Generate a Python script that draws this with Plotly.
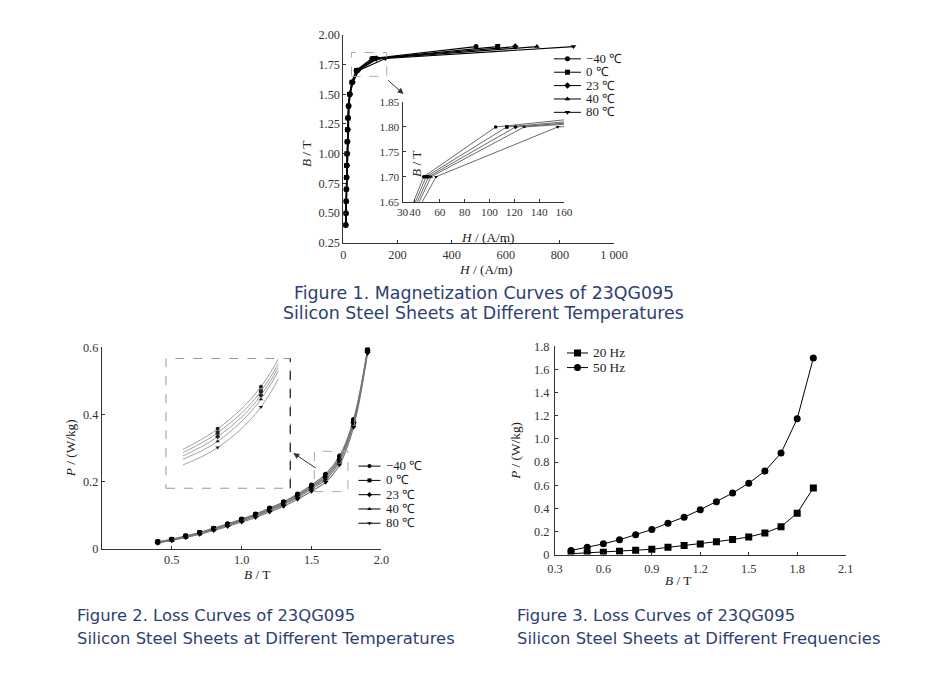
import plotly.graph_objects as go

# the photographed page comes out scaled by SCALE and shifted by SHIFT,
# so reference pixels are converted back to figure pixels before use
SCALE, SHIFT = 0.974, 16.4
W, H = 932, 682

# ---------------- Figure 1: magnetization curves ----------------
temps = ["−40 ℃", "0 ℃", "23 ℃", "40 ℃", "80 ℃"]
b_mag = [0.4, 0.5, 0.6, 0.7, 0.8, 0.9, 1.0, 1.1, 1.2, 1.3, 1.4, 1.5, 1.6, 1.7, 1.8, 1.9]
h_m40 = [8, 9, 10, 10, 11, 12, 13, 14, 15, 16, 18, 23, 31, 47, 105, 490]
h_0 = [8, 9, 10, 11, 11, 12, 13, 14, 15, 17, 19, 23, 32, 49, 114, 570]
h_23 = [9, 9, 10, 11, 12, 13, 14, 15, 16, 17, 19, 24, 33, 51, 121, 635]
h_40 = [9, 10, 11, 11, 12, 13, 14, 15, 16, 18, 20, 24, 34, 53, 128, 715]
h_80 = [9, 10, 11, 12, 13, 14, 15, 16, 17, 18, 21, 25, 35, 57, 155, 850]
h_curves = [h_m40, h_0, h_23, h_40, h_80]

# ---------------- Figure 2: losses vs temperature ----------------
b_loss = [0.4, 0.5, 0.6, 0.7, 0.8, 0.9, 1.0, 1.1, 1.2, 1.3, 1.4, 1.5, 1.6, 1.7, 1.8, 1.9]
p_m40 = [0.021, 0.028, 0.038, 0.048, 0.061, 0.074, 0.088, 0.103, 0.121, 0.140, 0.163, 0.190, 0.222, 0.276, 0.385, 0.595]
p_0 = [0.020, 0.027, 0.037, 0.047, 0.059, 0.072, 0.086, 0.101, 0.118, 0.137, 0.159, 0.186, 0.217, 0.270, 0.380, 0.592]
p_23 = [0.019, 0.026, 0.036, 0.046, 0.058, 0.071, 0.084, 0.099, 0.116, 0.134, 0.156, 0.182, 0.212, 0.265, 0.376, 0.590]
p_40 = [0.018, 0.025, 0.035, 0.045, 0.057, 0.069, 0.082, 0.097, 0.113, 0.131, 0.152, 0.178, 0.206, 0.260, 0.371, 0.587]
p_80 = [0.017, 0.024, 0.033, 0.043, 0.054, 0.066, 0.079, 0.093, 0.109, 0.126, 0.147, 0.171, 0.198, 0.250, 0.362, 0.582]
p_curves = [p_m40, p_0, p_23, p_40, p_80]

# ---------------- Figure 3: losses vs frequency ----------------
freqs = ["20 Hz", "50 Hz"]
b_freq = [0.4, 0.5, 0.6, 0.7, 0.8, 0.9, 1.0, 1.1, 1.2, 1.3, 1.4, 1.5, 1.6, 1.7, 1.8, 1.9]
p_20hz = [0.008, 0.015, 0.021, 0.030, 0.038, 0.046, 0.063, 0.078, 0.092, 0.112, 0.130, 0.153, 0.187, 0.242, 0.358, 0.577]
p_50hz = [0.036, 0.063, 0.093, 0.128, 0.171, 0.217, 0.272, 0.324, 0.388, 0.457, 0.532, 0.618, 0.722, 0.878, 1.174, 1.700]

temp_symbols = ["circle", "square", "diamond", "triangle-up", "triangle-down"]
freq_symbols = ["square", "circle"]

SERIF = "Liberation Serif"
CAPTION = "#2d4071"


# reference pixel -> paper fraction
def px(x):
    return (x - SHIFT) / SCALE / W


def py(y):
    return 1 - (y - SHIFT) / SCALE / H


def dom_x(a, b):
    return [px(a), px(b)]


def dom_y(top, bottom):
    return [py(bottom), py(top)]


def fs(size):
    # font size as it should appear in the photo
    return round(size / SCALE, 1)


fig = go.Figure()

# fig 1 main + inset
for name, hs, sym in zip(temps, h_curves, temp_symbols):
    fig.add_trace(go.Scatter(x=hs, y=b_mag, mode="lines+markers", name=name,
                             line=dict(color="black", width=1.2),
                             marker=dict(symbol=sym, size=5, color="black"),
                             xaxis="x", yaxis="y", showlegend=False))
    fig.add_trace(go.Scatter(x=hs, y=b_mag, mode="lines+markers", name=name,
                             line=dict(color="#444", width=0.8),
                             marker=dict(symbol=sym, size=3.5, color="black"),
                             xaxis="x2", yaxis="y2", showlegend=False))

# fig 2 main + inset
for name, ps, sym in zip(temps, p_curves, temp_symbols):
    fig.add_trace(go.Scatter(x=b_loss, y=ps, mode="lines+markers", name=name,
                             line=dict(color="#777", width=1.1, shape="spline"),
                             marker=dict(symbol=sym, size=5, color="black"),
                             xaxis="x3", yaxis="y3", showlegend=False))
    fig.add_trace(go.Scatter(x=b_loss, y=ps, mode="lines+markers", name=name,
                             line=dict(color="#888", width=0.8, shape="spline"),
                             marker=dict(symbol=sym, size=4, color="#222"),
                             xaxis="x4", yaxis="y4", showlegend=False))

# fig 3
for name, ps, sym in zip(freqs, [p_20hz, p_50hz], freq_symbols):
    fig.add_trace(go.Scatter(x=b_freq, y=ps, mode="lines+markers", name=name,
                             line=dict(color="black", width=1),
                             marker=dict(symbol=sym, size=7, color="black"),
                             xaxis="x5", yaxis="y5", showlegend=False))

# hand-made legends drawn on an overlay axis that works in reference pixels
annotations = []


def add_legend(names, symbols, x0, y0, dy, length, msize, fsize):
    for i, (name, sym) in enumerate(zip(names, symbols)):
        yy = y0 + i * dy
        fig.add_trace(go.Scatter(x=[x0, x0 + length], y=[yy, yy], mode="lines",
                                 line=dict(color="black", width=1),
                                 xaxis="x6", yaxis="y6", showlegend=False, hoverinfo="skip"))
        fig.add_trace(go.Scatter(x=[x0 + length / 2], y=[yy], mode="markers",
                                 marker=dict(symbol=sym, size=msize, color="black"),
                                 xaxis="x6", yaxis="y6", showlegend=False, hoverinfo="skip"))
        annotations.append(dict(x=px(x0 + length + 4), y=py(yy), xref="paper", yref="paper",
                                text=name, showarrow=False, xanchor="left", yanchor="middle",
                                borderpad=0, font=dict(family=SERIF, size=fs(fsize), color="#222")))


add_legend(temps, temp_symbols, 553, 60, 13.3, 27, 5, 12.5)
add_legend(temps, temp_symbols, 358, 465, 14.2, 22, 4, 12.5)
add_legend(freqs, freq_symbols, 566, 352.5, 14.5, 21, 7, 13)

tick_font = dict(family=SERIF, size=fs(12), color="#333")
axis_common = dict(showgrid=False, zeroline=False, showline=True, linecolor="#333",
                   linewidth=1, ticks="inside", ticklen=3, tickcolor="#333",
                   tickfont=tick_font, tickangle=0, fixedrange=True)
inset_common = dict(axis_common, tickfont=dict(family=SERIF, size=fs(11), color="#333"))

fig.update_layout(
    width=W, height=H,
    margin=dict(l=0, r=0, t=0, b=0),
    paper_bgcolor="white", plot_bgcolor="rgba(0,0,0,0)",
    xaxis=dict(domain=dom_x(343, 613), range=[0, 1000], anchor="y",
               tickvals=[0, 200, 400, 600, 800, 1000],
               ticktext=["0", "200", "400", "600", "800", "1 000"], **axis_common),
    yaxis=dict(domain=dom_y(36, 243), range=[0.25, 2.0], anchor="x",
               tickvals=[0.25, 0.5, 0.75, 1.0, 1.25, 1.5, 1.75, 2.0],
               ticktext=["0.25", "0.50", "0.75", "1.00", "1.25", "1.50", "1.75", "2.00"], **axis_common),
    xaxis2=dict(domain=dom_x(402, 563), range=[30, 160], anchor="y2",
                tickvals=[30, 40, 60, 80, 100, 120, 140, 160], **inset_common),
    yaxis2=dict(domain=dom_y(103, 202), range=[1.65, 1.85], anchor="x2",
                tickvals=[1.65, 1.70, 1.75, 1.80, 1.85],
                ticktext=["1.65", "1.70", "1.75", "1.80", "1.85"], **inset_common),
    xaxis3=dict(domain=dom_x(102, 381), range=[0, 2.0], anchor="y3",
                tickvals=[0.5, 1.0, 1.5, 2.0], ticktext=["0.5", "1.0", "1.5", "2.0"], **axis_common),
    yaxis3=dict(domain=dom_y(347, 547), range=[0, 0.6], anchor="x3",
                tickvals=[0, 0.2, 0.4, 0.6], ticktext=["0", "0.2", "0.4", "0.6"], **axis_common),
    xaxis4=dict(domain=dom_x(183, 278), range=[1.52, 1.74], anchor="y4", visible=False, fixedrange=True),
    yaxis4=dict(domain=dom_y(358, 487), range=[0.146, 0.312], anchor="x4", visible=False, fixedrange=True),
    xaxis5=dict(domain=dom_x(554, 844), range=[0.3, 2.1], anchor="y5",
                tickvals=[0.3, 0.6, 0.9, 1.2, 1.5, 1.8, 2.1],
                ticktext=["0.3", "0.6", "0.9", "1.2", "1.5", "1.8", "2.1"],
                ticklabelstandoff=3, **axis_common),
    yaxis5=dict(domain=dom_y(346, 553), range=[0, 1.8], anchor="x5",
                tickvals=[0, 0.2, 0.4, 0.6, 0.8, 1.0, 1.2, 1.4, 1.6, 1.8],
                ticktext=["0", "0.2", "0.4", "0.6", "0.8", "1.0", "1.2", "1.4", "1.6", "1.8"],
                ticklabelstandoff=2, **axis_common),
    xaxis6=dict(domain=[0, 1], range=[SHIFT, SHIFT + SCALE * W], anchor="y6", visible=False, fixedrange=True),
    yaxis6=dict(domain=[0, 1], range=[SHIFT + SCALE * H, SHIFT], anchor="x6", visible=False, fixedrange=True),
)

# axis titles
title_font = dict(family=SERIF, size=fs(13), color="#222")
axis_titles = [
    (297, 140, "<i>B</i> / T", -90),
    (485, 269, "<i>H</i> / (A/m)", 0),
    (416, 150, "<i>B</i> / T", -90),
    (487, 228, "<i>H</i> / (A/m)", 0),
    (61, 447, "<i>P</i> / (W/kg)", -90),
    (242, 582, "<i>B</i> / T", 0),
    (514, 450, "<i>P</i> / (W/kg)", -90),
    (692, 588, "<i>B</i> / T", 0),
]
for x, y, txt, ang in axis_titles:
    annotations.append(dict(x=px(x), y=py(y), xref="paper", yref="paper", text=txt,
                            showarrow=False, textangle=ang, font=title_font))

# captions, one annotation per line
captions = [
    (483, 293, "center", 17.4, "Figure 1. Magnetization Curves of 23QG095"),
    (483, 313, "center", 17.4, "Silicon Steel Sheets at Different Temperatures"),
    (75, 614, "left", 16.4, "Figure 2. Loss Curves of 23QG095"),
    (75, 636, "left", 16.4, "Silicon Steel Sheets at Different Temperatures"),
    (514, 614, "left", 16.4, "Figure 3. Loss Curves of 23QG095"),
    (514, 636, "left", 16.4, "Silicon Steel Sheets at Different Frequencies"),
]
for x, y, anchor, size, txt in captions:
    annotations.append(dict(x=px(x), y=py(y), xref="paper", yref="paper", text=txt,
                            showarrow=False, xanchor=anchor, yanchor="middle",
                            font=dict(family="DejaVu Sans", size=size, color=CAPTION)))

# zoom arrows
annotations.append(dict(x=px(403), y=py(95), xref="paper", yref="paper", text="", showarrow=True,
                        ax=-17, ay=-15, arrowhead=2, arrowsize=1.2, arrowwidth=1, arrowcolor="#333"))
annotations.append(dict(x=px(293), y=py(452), xref="paper", yref="paper", text="", showarrow=True,
                        ax=24, ay=16, arrowhead=2, arrowsize=1.2, arrowwidth=1, arrowcolor="#333"))

fig.update_layout(annotations=annotations)

# dashed zoom boxes
fig.add_shape(type="rect", xref="x", yref="y", x0=30, x1=160, y0=1.65, y1=1.85,
              line=dict(color="#aaa", width=1, dash="dash"))
fig.add_shape(type="rect", xref="x3", yref="y3", x0=1.52, x1=1.76, y0=0.17, y1=0.29,
              line=dict(color="#aaa", width=1, dash="dash"))
fig.add_shape(type="rect", xref="paper", yref="paper", x0=px(166), x1=px(290), y0=py(487), y1=py(358),
              line=dict(color="#999", width=1, dash="dash"))
fig.add_shape(type="line", xref="paper", yref="paper", x0=px(290), x1=px(290), y0=py(487), y1=py(358),
              line=dict(color="#222", width=1.2, dash="dash"))

fig.write_html("out.html")
